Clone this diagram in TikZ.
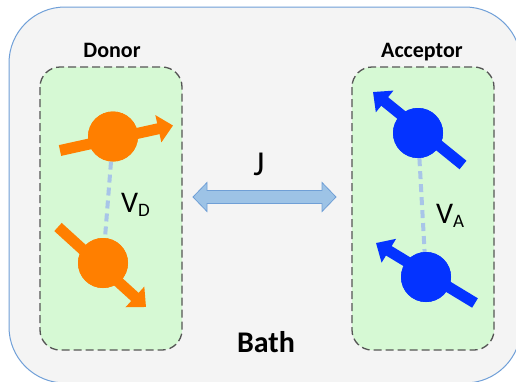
\documentclass[tikz,border=0pt]{standalone}
\usepackage{fontspec}
\setmainfont{Carlito}
\usetikzlibrary{arrows.meta,calc}
\definecolor{bathfill}{HTML}{F4F4F4}
\definecolor{bathline}{HTML}{6F9FD8}
\definecolor{boxfill}{HTML}{D6F9D4}
\definecolor{boxline}{HTML}{555555}
\definecolor{spinor}{HTML}{FF7F00}
\definecolor{spinbl}{HTML}{0433FF}
\definecolor{linkc}{HTML}{A8C5E8}
\definecolor{jfill}{HTML}{9DC3E6}
\definecolor{jline}{HTML}{6F9FD6}
\tikzset{
  bathbox/.style={fill=bathfill,draw=bathline,line width=1pt,rounded corners=56pt},
  groupbox/.style={fill=boxfill,draw=boxline,line width=1.3pt,dash pattern=on 8pt off 4pt,rounded corners=20pt},
  ball/.style={circle,fill=#1,minimum size=50pt,inner sep=0pt},
  spinarrow/.style={draw=#1,line width=11pt,-{Triangle[length=15pt,width=27pt,fill=#1]}},
  spinlink/.style={draw=linkc,line width=4pt,dash pattern=on 8pt off 5pt},
  jarrow/.style={fill=jfill,draw=jline,line width=0.8pt},
  title/.style={font=\fontsize{22}{26}\selectfont\bfseries,anchor=base},
  bigtitle/.style={font=\fontsize{30}{36}\selectfont\bfseries,anchor=base},
  lbl/.style={font=\fontsize{30}{34}\selectfont,anchor=base west,inner sep=0pt},
}
\newcommand{\subl}[1]{\raisebox{-4pt}{\fontsize{19}{22}\selectfont #1}}
\begin{document}
\begin{tikzpicture}[x=1pt,y=-1pt]
\useasboundingbox (0,0) rectangle (516,381);
\clip (0,0) rectangle (516,381);
\fill[white] (0,0) rectangle (516,381);
\draw[bathbox] (9,7) rectangle (521,383);
\draw[groupbox] (40,67) rectangle (182,350);
\draw[groupbox] (352,67) rectangle (494,350);
\node[title] (donor) at (112,57) {Donor};
\node[title] (acceptor) at (422,57) {Acceptor};
\node[bigtitle] (bath) at (266,352) {Bath};
% donor spins
\node[ball=spinor] (d1) at (113,136.5) {};
\node[ball=spinor] (d2) at (103,263) {};
\draw[spinlink] (d1) -- (d2);
\draw[spinarrow=spinor] ([shift={(-53,14)}]d1.center) -- ([shift={(60,-11)}]d1.center);
\draw[spinarrow=spinor] ([shift={(-45,-36)}]d2.center) -- ([shift={(43,44)}]d2.center);
\node[ball=spinor] at (d1) {};
\node[ball=spinor] at (d2) {};
% acceptor spins
\node[ball=spinbl] (a1) at (418,133) {};
\node[ball=spinbl] (a2) at (426,277) {};
\draw[spinlink] (a1) -- (a2);
\draw[spinarrow=spinbl] ([shift={(45,32)}]a1.center) -- ([shift={(-45,-41)}]a1.center);
\draw[spinarrow=spinbl] ([shift={(49,26)}]a2.center) -- ([shift={(-50,-34)}]a2.center);
\node[ball=spinbl] at (a1) {};
\node[ball=spinbl] at (a2) {};
% labels
\node[lbl] (vd) at (121,212) {V\subl{D}};
\node[lbl] (va) at (436,223) {V\subl{A}};
% J arrow
\draw[jarrow] (193,197) -- (207,182.5) -- (207,190.5) -- (322,190.5) -- (322,182.5) -- (336,197) -- (322,211.5) -- (322,203.5) -- (207,203.5) -- (207,211.5) -- cycle;
\node[font=\fontsize{35}{40}\selectfont,anchor=base] (j) at (259,175) {J};
\end{tikzpicture}
\end{document}
